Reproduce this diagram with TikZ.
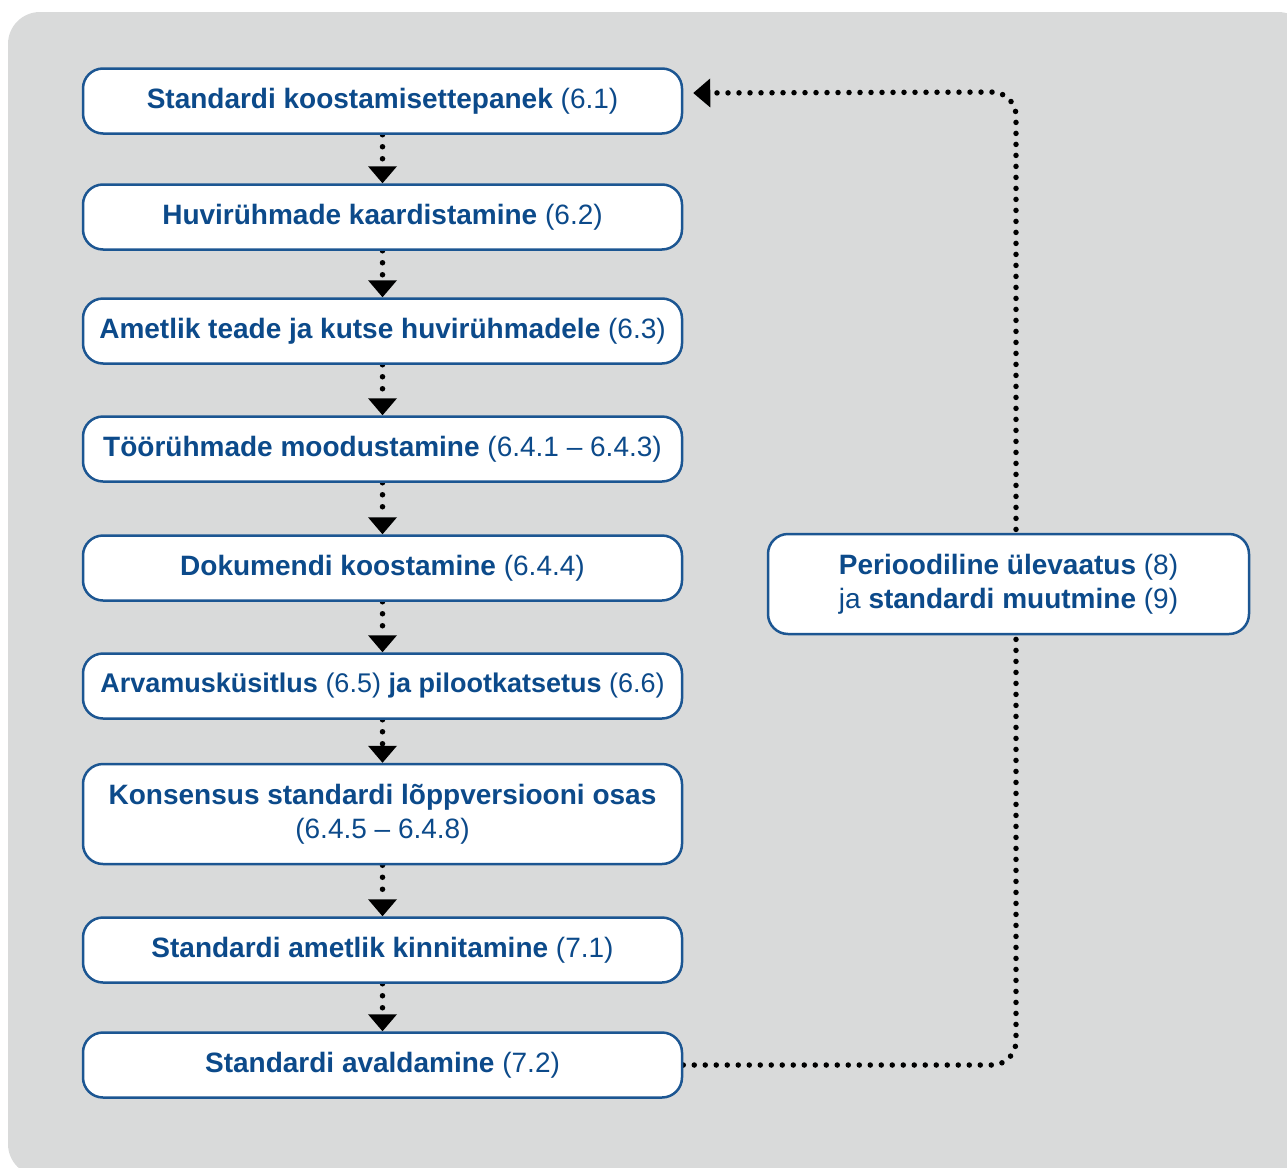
\documentclass[tikz,border=0pt]{standalone}
\usepackage{fontspec}
\setmainfont{Liberation Sans}
\usetikzlibrary{arrows.meta,calc}
\definecolor{bggray}{RGB}{217,218,218}
\definecolor{boxblue}{RGB}{28,86,146}
\definecolor{txtblue}{RGB}{12,74,138}
\pgfdeclarelayer{bglayer}
\pgfdeclarelayer{linelayer}
\pgfsetlayers{bglayer,linelayer,main}
\tikzset{
  stepbox/.style={draw=boxblue, line width=2.5pt, fill=white, rounded corners=20pt,
    minimum width=599pt, minimum height=65pt, inner sep=0pt, align=center,
    text=txtblue, font=\fontsize{28}{34}\selectfont},
  flowarrow/.style={line width=5.5pt, line cap=round, dash pattern=on 0pt off 12pt,
    -{Triangle[width=29pt,length=17pt,line width=0pt,round=false]}},
  fbline/.style={line width=5.5pt, line cap=round, dash pattern=on 0pt off 11pt,
    rounded corners=24pt, -{Triangle[width=29pt,length=17pt,line width=0pt,round=false]}}
}
\begin{document}
\begin{tikzpicture}[x=1pt,y=-1pt]
\useasboundingbox (0,0) rectangle (1287,1167);
\begin{pgfonlayer}{bglayer}
\clip (0,0) rectangle (1287,1167);
\fill[bggray, rounded corners=32pt] (8,12) rectangle (1310,1176);
\end{pgfonlayer}
\node[stepbox] (s1) at (382.5,101) {\textbf{Standardi koostamisettepanek} (6.1)};
\node[stepbox] (s2) at (382.5,217) {\textbf{Huvirühmade kaardistamine} (6.2)};
\node[stepbox] (s3) at (382.5,331) {\textbf{Ametlik teade ja kutse huvirühmadele} (6.3)};
\node[stepbox] (s4) at (382.5,449) {\textbf{Töörühmade moodustamine} (6.4.1 – 6.4.3)};
\node[stepbox] (s5) at (382.5,568) {\textbf{Dokumendi koostamine} (6.4.4)};
\node[stepbox, font=\fontsize{27}{34}\selectfont] (s6) at (382.5,686) {\textbf{Arvamusküsitlus} (6.5) \textbf{ja pilootkatsetus} (6.6)};
\node[stepbox, minimum height=100pt] (s7) at (382.5,814) {\textbf{Konsensus standardi lõppversiooni osas}\\(6.4.5 – 6.4.8)};
\node[stepbox] (s8) at (382.5,950) {\textbf{Standardi ametlik kinnitamine} (7.1)};
\node[stepbox] (s9) at (382.5,1065) {\textbf{Standardi avaldamine} (7.2)};
\node[stepbox, minimum width=481pt, minimum height=100pt] (rv) at (1008.5,584)
  {\textbf{Perioodiline ülevaatus} (8)\\ja \textbf{standardi muutmine} (9)};
\begin{pgfonlayer}{linelayer}
\foreach \a/\b in {s1/s2,s2/s3,s3/s4,s4/s5,s5/s6,s6/s7,s7/s8,s8/s9}
  \draw[flowarrow] (\a.south) -- (\b.north);
\coordinate (fbtip) at ([xshift=10pt,yshift=8pt]s1.east);
\coordinate (fbtop) at (1016,92);
\draw[fbline] (s9.east) -| (fbtop) -- (fbtip);
\end{pgfonlayer}
\end{tikzpicture}
\end{document}
